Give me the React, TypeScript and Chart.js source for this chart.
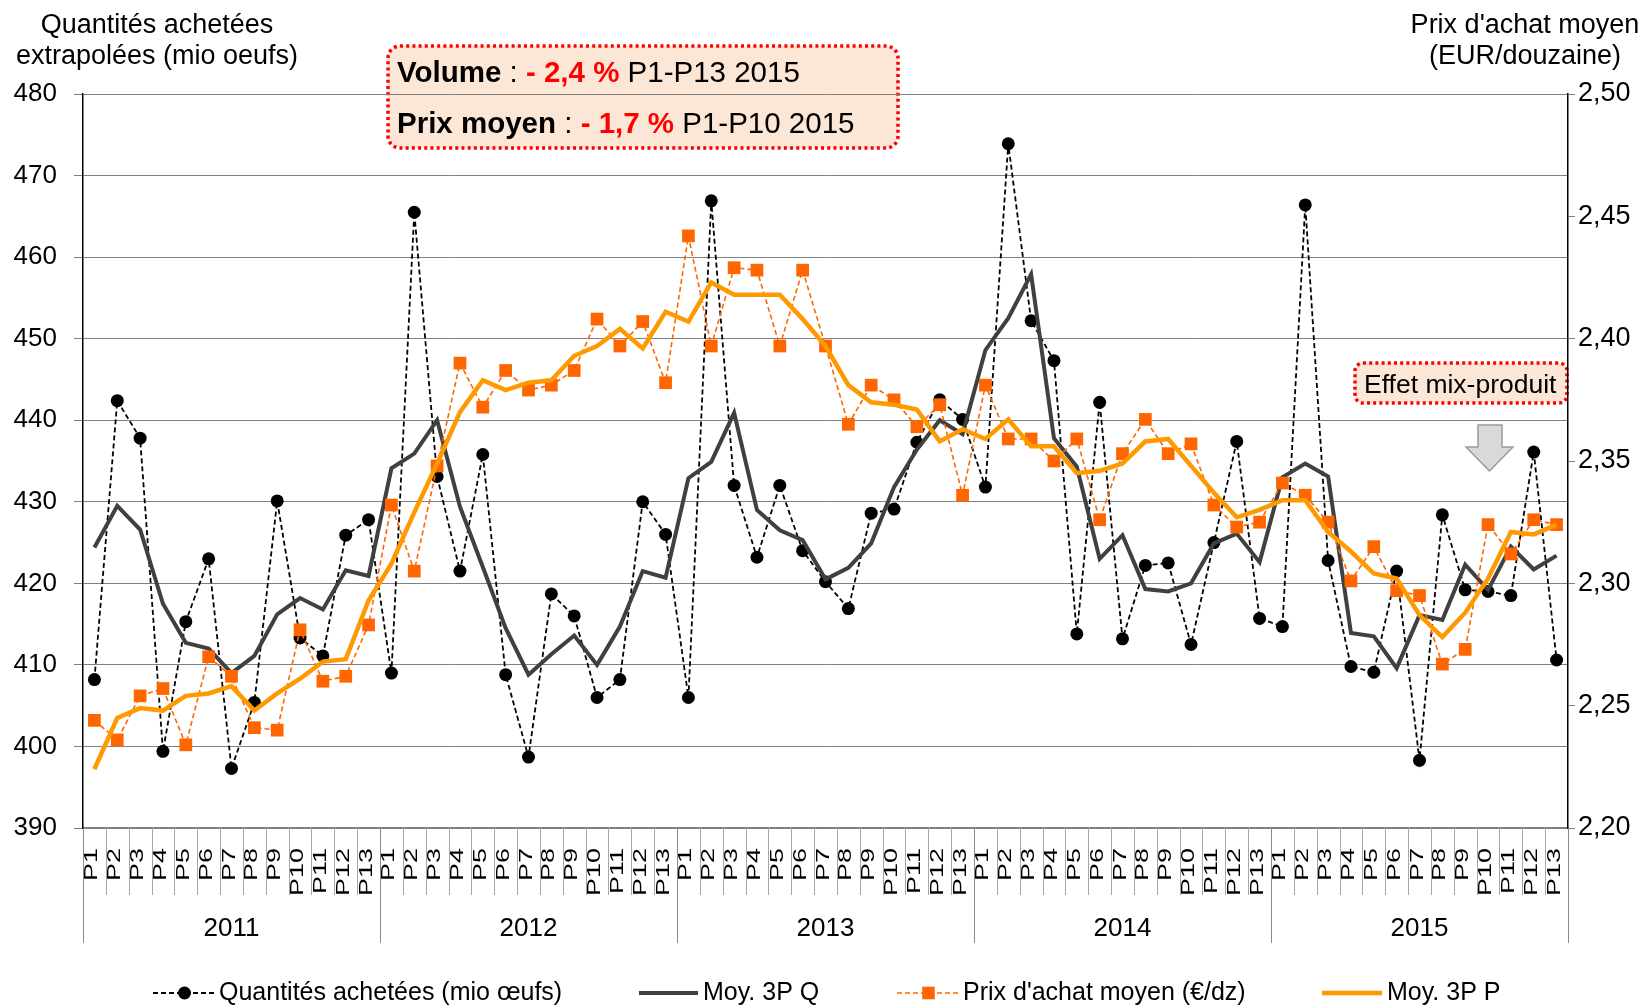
import React, { useEffect, useRef } from 'react';
import { Chart, registerables } from 'chart.js';

Chart.register(...registerables);

const FONT = '"Liberation Sans", Arial, Helvetica, sans-serif';

const years = ['2011', '2012', '2013', '2014', '2015'];
const periods = ['P1', 'P2', 'P3', 'P4', 'P5', 'P6', 'P7', 'P8', 'P9', 'P10', 'P11', 'P12', 'P13'];

// Quantités achetées (mio oeufs)
const quantities = [
  408.2, 442.4, 437.8, 399.4, 415.3, 423.0, 397.3, 405.4, 430.1, 413.3, 411.1, 425.9, 427.8,
  409.0, 465.5, 433.1, 421.5, 435.8, 408.8, 398.7, 418.7, 416.0, 406.0, 408.2, 430.0, 426.0,
  406.0, 466.9, 432.0, 423.2, 432.0, 424.0, 420.2, 416.9, 428.6, 429.1, 437.3, 442.5, 440.1,
  431.8, 473.9, 452.2, 447.3, 413.8, 442.2, 413.2, 422.2, 422.5, 412.5, 425.0, 437.4, 415.7,
  414.7, 466.4, 422.8, 409.8, 409.1, 421.5, 398.3, 428.4, 419.2, 419.0, 418.5, 436.1, 410.6,
];

// Moy. 3P Q
const quantitiesAvg3 = [
  424.4, 429.5, 426.6, 417.5, 412.7, 412.0, 409.0, 411.1, 416.2, 418.2, 416.8, 421.6, 420.9,
  434.1, 435.9, 440.0, 429.4, 422.0, 414.5, 408.8, 411.3, 413.6, 410.0, 414.7, 421.5, 420.7,
  432.9, 434.9, 440.9, 429.0, 426.5, 425.3, 420.5, 421.9, 424.9, 431.8, 436.4, 440.0, 438.3,
  448.6, 452.5, 457.9, 437.8, 434.3, 423.0, 425.9, 419.3, 419.0, 420.0, 424.9, 426.1, 422.6,
  433.0, 434.7, 433.1, 413.9, 413.5, 409.6, 416.1, 415.5, 422.3, 419.2, 424.5, 421.7, 423.4,
];

// Prix d'achat moyen (EUR/douzaine)
const prices = [
  2.244, 2.236, 2.254, 2.257, 2.234, 2.270, 2.262, 2.241, 2.240, 2.281, 2.260, 2.262, 2.283,
  2.332, 2.305, 2.348, 2.390, 2.372, 2.387, 2.379, 2.381, 2.387, 2.408, 2.397, 2.407, 2.382,
  2.442, 2.397, 2.429, 2.428, 2.397, 2.428, 2.397, 2.365, 2.381, 2.375, 2.364, 2.373, 2.336,
  2.381, 2.359, 2.359, 2.350, 2.359, 2.326, 2.353, 2.367, 2.353, 2.357, 2.332, 2.323, 2.325,
  2.341, 2.336, 2.325, 2.301, 2.315, 2.297, 2.295, 2.267, 2.273, 2.324, 2.312, 2.326, 2.324,
];

// Moy. 3P P
const pricesAvg3 = [
  2.224, 2.245, 2.249, 2.248, 2.254, 2.255, 2.258, 2.248, 2.255, 2.261, 2.268, 2.269, 2.293,
  2.308, 2.329, 2.349, 2.370, 2.383, 2.379, 2.382, 2.383, 2.393, 2.397, 2.404, 2.396, 2.411,
  2.407, 2.423, 2.418, 2.418, 2.418, 2.408, 2.397, 2.381, 2.374, 2.373, 2.371, 2.358, 2.363,
  2.359, 2.367, 2.356, 2.356, 2.345, 2.346, 2.349, 2.358, 2.359, 2.348, 2.337, 2.327, 2.330,
  2.334, 2.334, 2.321, 2.313, 2.304, 2.302, 2.287, 2.278, 2.288, 2.302, 2.321, 2.320, 2.324,
];

const seriesNames = [
  'Quantités achetées (mio œufs)',
  'Moy. 3P Q',
  "Prix d'achat moyen (€/dz)",
  'Moy. 3P P',
];

const leftTitle = ['Quantités achetées', 'extrapolées (mio oeufs)'];
const rightTitle = ["Prix d'achat moyen", '(EUR/douzaine)'];

const COL_Q = '#000000';
const COL_QAVG = '#404040';
const COL_P = '#ff6600';
const COL_PAVG = '#ff9900';

const categories = years.flatMap(() => periods);

function roundRect(ctx: CanvasRenderingContext2D, x: number, y: number, w: number, h: number, r: number) {
  ctx.beginPath();
  ctx.moveTo(x + r, y);
  ctx.arcTo(x + w, y, x + w, y + h, r);
  ctx.arcTo(x + w, y + h, x, y + h, r);
  ctx.arcTo(x, y + h, x, y, r);
  ctx.arcTo(x, y, x + w, y, r);
  ctx.closePath();
}

function drawRich(ctx: CanvasRenderingContext2D, x: number, y: number, parts: [string, boolean, string][], size: number) {
  let cx = x;
  for (const [text, bold, color] of parts) {
    ctx.font = `${bold ? 'bold ' : ''}${size}px ${FONT}`;
    ctx.fillStyle = color;
    ctx.fillText(text, cx, y);
    cx += ctx.measureText(text).width;
  }
}

const backgroundPlugin = {
  id: 'annotBoxes',
  beforeDraw(chart: any) {
    const ctx: CanvasRenderingContext2D = chart.ctx;
    ctx.save();
    // Main annotation box
    roundRect(ctx, 388, 46, 510, 102, 12);
    ctx.fillStyle = '#fce7d7';
    ctx.fill();
    ctx.setLineDash([3, 3.2]);
    ctx.lineWidth = 3.5;
    ctx.strokeStyle = '#ff0000';
    ctx.stroke();
    ctx.setLineDash([]);
    ctx.textAlign = 'left';
    ctx.textBaseline = 'alphabetic';
    drawRich(ctx, 397, 82, [
      ['Volume', true, '#000'],
      [' : ', false, '#000'],
      ['- 2,4 %', true, '#ff0000'],
      [' P1-P13 2015', false, '#000'],
    ], 29.5);
    drawRich(ctx, 397, 133, [
      ['Prix moyen', true, '#000'],
      [' : ', false, '#000'],
      ['- 1,7 %', true, '#ff0000'],
      [' P1-P10 2015', false, '#000'],
    ], 29.5);

    // Effet mix-produit box
    roundRect(ctx, 1355, 363, 212, 40, 8);
    ctx.fillStyle = '#fce7d7';
    ctx.fill();
    ctx.setLineDash([3, 3.2]);
    ctx.lineWidth = 3.5;
    ctx.strokeStyle = '#ff0000';
    ctx.stroke();
    ctx.setLineDash([]);
    ctx.font = `26.5px ${FONT}`;
    ctx.fillStyle = '#000';
    ctx.fillText('Effet mix-produit', 1364, 393);

    // Down arrow
    ctx.beginPath();
    ctx.moveTo(1478, 425);
    ctx.lineTo(1502, 425);
    ctx.lineTo(1502, 447);
    ctx.lineTo(1513, 447);
    ctx.lineTo(1489.5, 471);
    ctx.lineTo(1466, 447);
    ctx.lineTo(1478, 447);
    ctx.closePath();
    ctx.fillStyle = '#d9d9d9';
    ctx.fill();
    ctx.strokeStyle = '#9a9a9a';
    ctx.lineWidth = 1.5;
    ctx.stroke();
    ctx.restore();
  },
};

function drawLegendSample(ctx: CanvasRenderingContext2D, x1: number, x2: number, y: number, color: string, width: number, dash: number[], marker: string | null) {
  ctx.save();
  ctx.strokeStyle = color;
  ctx.lineWidth = width;
  ctx.setLineDash(dash);
  ctx.beginPath();
  ctx.moveTo(x1, y);
  ctx.lineTo(x2, y);
  ctx.stroke();
  ctx.setLineDash([]);
  const mx = (x1 + x2) / 2;
  ctx.fillStyle = color;
  if (marker === 'circle') {
    ctx.beginPath();
    ctx.arc(mx, y, 6.5, 0, Math.PI * 2);
    ctx.fill();
  } else if (marker === 'rect') {
    ctx.fillRect(mx - 6.3, y - 6.3, 12.6, 12.6);
  }
  ctx.restore();
}

const axisDecorPlugin = {
  id: 'axisDecor',
  afterDraw(chart: any) {
    const ctx: CanvasRenderingContext2D = chart.ctx;
    const xs = chart.scales.x;
    const area = chart.chartArea;
    const n = categories.length;
    const step = xs.getPixelForValue(1) - xs.getPixelForValue(0);
    const first = xs.getPixelForValue(0) - step / 2;
    ctx.save();

    // separators
    ctx.lineWidth = 1;
    for (let i = 0; i <= n; i++) {
      const bx = Math.round(first + i * step) + 0.5;
      const isYear = i % periods.length === 0;
      ctx.strokeStyle = isYear ? '#8c8c8c' : '#a6a6a6';
      ctx.beginPath();
      ctx.moveTo(bx, area.bottom);
      ctx.lineTo(bx, isYear ? area.bottom + 115 : area.bottom + 67);
      ctx.stroke();
    }

    // period labels (rotated)
    ctx.fillStyle = '#000';
    ctx.font = `19px ${FONT}`;
    ctx.textAlign = 'right';
    ctx.textBaseline = 'alphabetic';
    categories.forEach((lab, i) => {
      const cx = xs.getPixelForValue(i);
      ctx.save();
      ctx.translate(cx + 3, area.bottom + 20);
      ctx.rotate(-Math.PI / 2);
      ctx.scale(1.42, 1);
      ctx.fillText(lab, 0, 0);
      ctx.restore();
    });

    // year labels
    ctx.font = `26px ${FONT}`;
    ctx.textAlign = 'center';
    ctx.textBaseline = 'middle';
    years.forEach((yr, k) => {
      const a = first + k * periods.length * step;
      const b = first + (k + 1) * periods.length * step;
      ctx.fillText(yr, (a + b) / 2, area.bottom + 101);
    });

    // axis titles
    ctx.textBaseline = 'alphabetic';
    ctx.font = `27px ${FONT}`;
    ctx.fillText(leftTitle[0], 157, 33);
    ctx.fillText(leftTitle[1], 157, 64);
    ctx.fillText(rightTitle[0], 1525, 33);
    ctx.fillText(rightTitle[1], 1525, 64);

    // legend
    const ly = 993;
    ctx.font = `25px ${FONT}`;
    ctx.textAlign = 'left';
    ctx.textBaseline = 'middle';
    drawLegendSample(ctx, 153, 216, ly, COL_Q, 1.8, [5, 3], 'circle');
    ctx.fillStyle = '#000';
    ctx.fillText(seriesNames[0], 219, ly);
    drawLegendSample(ctx, 639, 698, ly, COL_QAVG, 4, [], null);
    ctx.fillStyle = '#000';
    ctx.fillText(seriesNames[1], 703, ly);
    drawLegendSample(ctx, 897, 960, ly, COL_P, 1.6, [5, 3], 'rect');
    ctx.fillStyle = '#000';
    ctx.fillText(seriesNames[2], 963, ly);
    drawLegendSample(ctx, 1322, 1382, ly, COL_PAVG, 4.5, [], null);
    ctx.fillStyle = '#000';
    ctx.fillText(seriesNames[3], 1387, ly);

    ctx.restore();
  },
};

export default function App() {
  const canvasRef = useRef<HTMLCanvasElement | null>(null);

  useEffect(() => {
    document.body.style.margin = '0';
    document.body.style.background = '#ffffff';
    const canvas = canvasRef.current;
    if (!canvas) return;
    Chart.defaults.font.family = FONT;
    const chart = new Chart(canvas, {
      type: 'line',
      data: {
        labels: categories,
        datasets: [
          {
            label: seriesNames[0],
            data: quantities,
            yAxisID: 'y',
            borderColor: COL_Q,
            backgroundColor: COL_Q,
            borderWidth: 1.8,
            borderDash: [5, 3],
            pointStyle: 'circle',
            pointRadius: 6.5,
            pointBackgroundColor: COL_Q,
            pointBorderColor: COL_Q,
            pointBorderWidth: 0,
            tension: 0,
            order: 4,
          },
          {
            label: seriesNames[1],
            data: quantitiesAvg3,
            yAxisID: 'y',
            borderColor: COL_QAVG,
            backgroundColor: COL_QAVG,
            borderWidth: 4,
            pointRadius: 0,
            tension: 0,
            order: 3,
          },
          {
            label: seriesNames[2],
            data: prices,
            yAxisID: 'y1',
            borderColor: COL_P,
            backgroundColor: COL_P,
            borderWidth: 1.6,
            borderDash: [5, 3],
            pointStyle: 'rect',
            pointRadius: 9,
            pointBackgroundColor: COL_P,
            pointBorderColor: COL_P,
            pointBorderWidth: 0,
            tension: 0,
            order: 2,
          },
          {
            label: seriesNames[3],
            data: pricesAvg3,
            yAxisID: 'y1',
            borderColor: COL_PAVG,
            backgroundColor: COL_PAVG,
            borderWidth: 4.5,
            pointRadius: 0,
            tension: 0,
            order: 1,
          },
        ],
      },
      options: {
        responsive: false,
        animation: false,
        devicePixelRatio: 1,
        events: [],
        layout: { padding: { top: 94, left: 0, right: 0, bottom: 0 } },
        plugins: {
          legend: { display: false },
          tooltip: { enabled: false },
          title: { display: false },
        },
        scales: {
          x: {
            type: 'category',
            offset: true,
            ticks: { display: false },
            grid: { display: false },
            border: { color: '#808080', width: 1.5 },
            afterFit: (s: any) => {
              s.height = 180;
            },
          },
          y: {
            position: 'left',
            min: 390,
            max: 480,
            ticks: {
              stepSize: 10,
              color: '#000',
              font: { size: 26, family: FONT },
              padding: 17,
            },
            grid: { color: '#808080', lineWidth: 1, tickLength: 9, tickColor: '#808080' },
            border: { color: '#000', width: 1.5 },
            afterFit: (s: any) => {
              s.width = 83;
            },
          },
          y1: {
            position: 'right',
            min: 2.2,
            max: 2.5,
            ticks: {
              stepSize: 0.05,
              color: '#000',
              font: { size: 27, family: FONT },
              padding: 3,
              callback: (v: any) => Number(v).toFixed(2).replace('.', ','),
            },
            grid: { drawOnChartArea: false, tickLength: 7, color: '#808080' },
            border: { color: '#000', width: 1.5 },
            afterFit: (s: any) => {
              s.width = 82;
            },
          },
        },
      } as any,
      plugins: [backgroundPlugin, axisDecorPlugin],
    });
    return () => chart.destroy();
  }, []);

  return (
    <div style={{ position: 'relative', width: 1650, height: 1008, background: '#fff' }}>
      <canvas ref={canvasRef} width={1650} height={1008} />
    </div>
  );
}
